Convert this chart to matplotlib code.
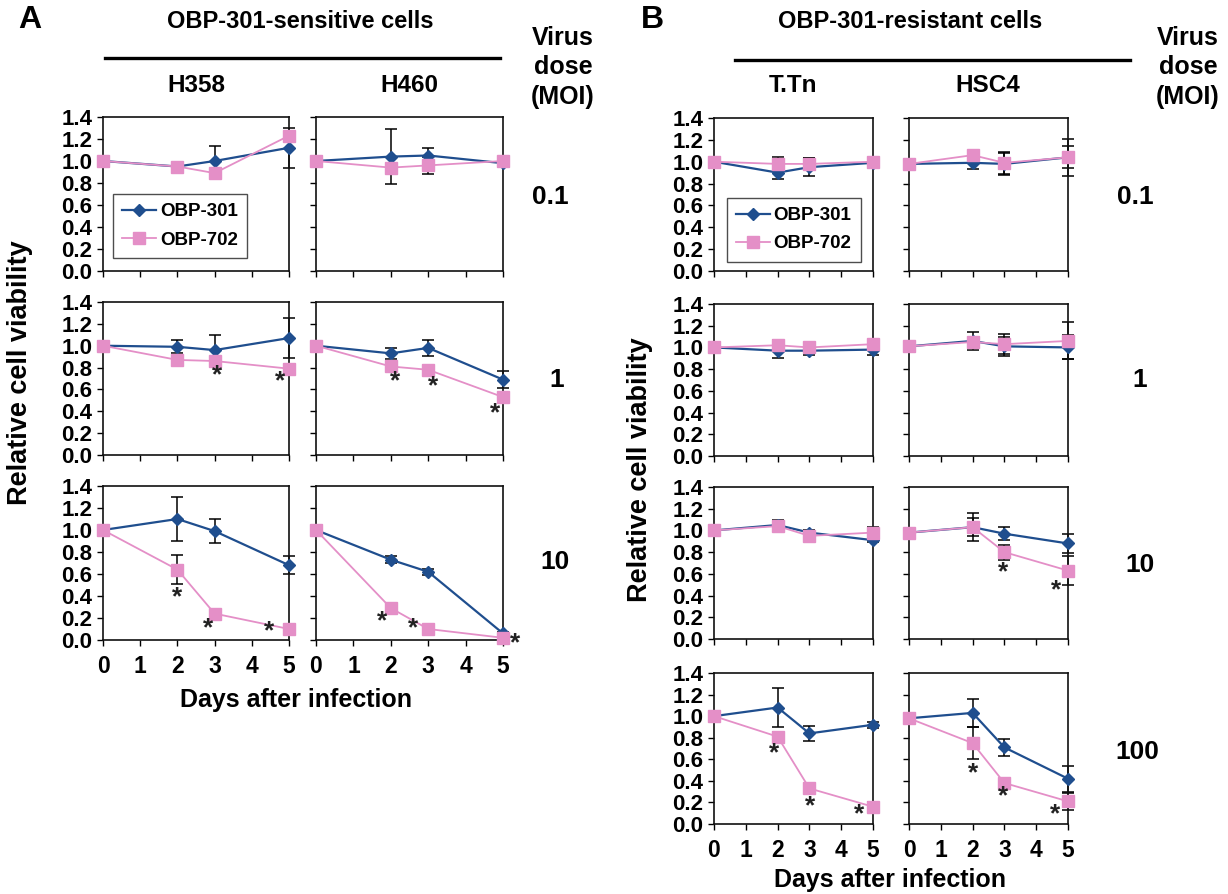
import matplotlib
matplotlib.use("Agg")
import matplotlib.pyplot as plt
import numpy as np

plt.rcParams['font.family'] = ['Liberation Sans', 'DejaVu Sans']
plt.rcParams['font.weight'] = 'bold'

days = [0, 2, 3, 5]
series_names = ["OBP-301", "OBP-702"]

# ---- Panel A: OBP-301-sensitive cells ----
H358_MOI01_301 = [1.00, 0.95, 1.00, 1.12]; H358_MOI01_301_err = [0, 0.03, 0.14, 0.18]
H358_MOI01_702 = [1.00, 0.95, 0.89, 1.23]; H358_MOI01_702_err = [0, 0.02, 0.03, 0.03]
H358_MOI1_301 = [1.00, 0.99, 0.96, 1.07]; H358_MOI1_301_err = [0, 0.06, 0.14, 0.18]
H358_MOI1_702 = [1.00, 0.87, 0.86, 0.79]; H358_MOI1_702_err = [0, 0.03, 0.03, 0.02]
H358_MOI10_301 = [1.00, 1.10, 0.99, 0.68]; H358_MOI10_301_err = [0, 0.20, 0.11, 0.08]
H358_MOI10_702 = [1.00, 0.64, 0.24, 0.10]; H358_MOI10_702_err = [0, 0.13, 0.02, 0.02]

H460_MOI01_301 = [1.00, 1.04, 1.05, 0.98]; H460_MOI01_301_err = [0, 0.25, 0.07, 0.02]
H460_MOI01_702 = [1.00, 0.94, 0.96, 1.00]; H460_MOI01_702_err = [0, 0.02, 0.08, 0.02]
H460_MOI1_301 = [1.00, 0.93, 0.98, 0.69]; H460_MOI1_301_err = [0, 0.05, 0.07, 0.08]
H460_MOI1_702 = [1.00, 0.81, 0.78, 0.53]; H460_MOI1_702_err = [0, 0.03, 0.02, 0.02]
H460_MOI10_301 = [1.00, 0.73, 0.62, 0.06]; H460_MOI10_301_err = [0, 0.03, 0.03, 0.01]
H460_MOI10_702 = [1.00, 0.29, 0.10, 0.02]; H460_MOI10_702_err = [0, 0.01, 0.01, 0.01]

# ---- Panel B: OBP-301-resistant cells ----
TTn_MOI01_301 = [1.00, 0.90, 0.95, 0.99]; TTn_MOI01_301_err = [0, 0.06, 0.08, 0.01]
TTn_MOI01_702 = [1.00, 0.98, 0.98, 1.00]; TTn_MOI01_702_err = [0, 0.06, 0.05, 0.01]
TTn_MOI1_301 = [1.00, 0.97, 0.97, 0.98]; TTn_MOI1_301_err = [0, 0.07, 0.04, 0.05]
TTn_MOI1_702 = [1.00, 1.02, 1.00, 1.03]; TTn_MOI1_702_err = [0, 0.05, 0.04, 0.02]
TTn_MOI10_301 = [1.00, 1.05, 0.98, 0.91]; TTn_MOI10_301_err = [0, 0.05, 0.02, 0.02]
TTn_MOI10_702 = [1.00, 1.04, 0.95, 0.98]; TTn_MOI10_702_err = [0, 0.04, 0.03, 0.05]
TTn_MOI100_301 = [1.00, 1.08, 0.84, 0.92]; TTn_MOI100_301_err = [0, 0.18, 0.07, 0.03]
TTn_MOI100_702 = [1.00, 0.81, 0.33, 0.16]; TTn_MOI100_702_err = [0, 0.04, 0.04, 0.04]

HSC4_MOI01_301 = [0.98, 0.99, 0.98, 1.04]; HSC4_MOI01_301_err = [0, 0.06, 0.10, 0.17]
HSC4_MOI01_702 = [0.98, 1.06, 0.99, 1.04]; HSC4_MOI01_702_err = [0, 0.02, 0.10, 0.10]
HSC4_MOI1_301 = [1.01, 1.06, 1.01, 1.00]; HSC4_MOI1_301_err = [0, 0.08, 0.09, 0.11]
HSC4_MOI1_702 = [1.01, 1.05, 1.03, 1.06]; HSC4_MOI1_702_err = [0, 0.03, 0.09, 0.17]
HSC4_MOI10_301 = [0.98, 1.03, 0.97, 0.88]; HSC4_MOI10_301_err = [0, 0.13, 0.06, 0.09]
HSC4_MOI10_702 = [0.98, 1.03, 0.80, 0.63]; HSC4_MOI10_702_err = [0, 0.08, 0.07, 0.13]
HSC4_MOI100_301 = [0.98, 1.03, 0.71, 0.42]; HSC4_MOI100_301_err = [0, 0.13, 0.08, 0.12]
HSC4_MOI100_702 = [0.98, 0.75, 0.38, 0.21]; HSC4_MOI100_702_err = [0, 0.15, 0.02, 0.08]

# significance stars (day position, viability position)
H358_MOI1_stars = [(3.08, 0.73), (4.76, 0.67)]
H358_MOI10_stars = [(1.99, 0.39), (2.83, 0.105), (4.47, 0.075)]
H460_MOI1_stars = [(2.11, 0.67), (3.13, 0.63), (4.79, 0.38)]
H460_MOI10_stars = [(1.76, 0.17), (2.59, 0.105), (5.32, -0.03)]
HSC4_MOI10_stars = [(2.96, 0.61), (4.62, 0.45)]
TTn_MOI100_stars = [(1.89, 0.66), (3.02, 0.16), (4.56, 0.09)]
HSC4_MOI100_stars = [(2.01, 0.47), (2.96, 0.26), (4.59, 0.09)]

y_ticks = [0.0, 0.2, 0.4, 0.6, 0.8, 1.0, 1.2, 1.4]
x_ticks = [0, 1, 2, 3, 4, 5]

BLUE = "#1f4e8e"
PINK = "#e48fc7"

W, H = 1228, 894
fig = plt.figure(figsize=(W / 100, H / 100), dpi=100)


def px_axes(x0, x1, y0, y1):
    return fig.add_axes([x0 / W, 1 - y1 / H, (x1 - x0) / W, (y1 - y0) / H])


def ftext(x, y, s, **kw):
    fig.text(x / W, 1 - y / H, s, **kw)


def panel(ax, v301, e301, v702, e702, stars, ylabels, xlabels, legend=None):
    for vals, errs in ((v301, e301), (v702, e702)):
        d = [d_ for d_, e in zip(days, errs) if e > 0]
        v = [v_ for v_, e in zip(vals, errs) if e > 0]
        ee = [e for e in errs if e > 0]
        ax.errorbar(d, v, yerr=ee, fmt='none', ecolor='black', elinewidth=1.1,
                    capsize=4, capthick=1.1, zorder=2, clip_on=False)
    l1, = ax.plot(days, v301, color=BLUE, lw=1.6, marker='D', ms=6.5,
                  mfc=BLUE, mec=BLUE, zorder=3, clip_on=False)
    l2, = ax.plot(days, v702, color=PINK, lw=1.3, marker='s', ms=9,
                  mfc=PINK, mec=PINK, zorder=4, clip_on=False)
    for sx, sy in stars:
        ax.text(sx, sy, '*', fontsize=19, fontweight='bold', ha='center',
                va='center', color='#222222', clip_on=False, zorder=5)
    ax.set_xlim(0, 5)
    ax.set_ylim(0, 1.4)
    ax.set_xticks(x_ticks)
    ax.set_yticks(y_ticks)
    if ylabels:
        ax.set_yticklabels([f"{t:.1f}" for t in y_ticks], fontsize=16, fontweight='bold')
    else:
        ax.set_yticklabels([])
    if xlabels:
        ax.set_xticklabels([str(t) for t in x_ticks], fontsize=16.5, fontweight='bold')
    else:
        ax.set_xticklabels([])
    ax.tick_params(axis='y', direction='out', length=4.5, width=1, pad=3)
    ax.tick_params(axis='x', direction='out', length=4.5, width=1, pad=6)
    for sp in ax.spines.values():
        sp.set_linewidth(1.2)
        sp.set_color('#111111')
    if legend is not None:
        leg = ax.legend([l1, l2], series_names, loc='lower left',
                        bbox_to_anchor=legend, frameon=True,
                        fancybox=False, edgecolor='#222222', handlelength=1.8,
                        labelspacing=0.6, borderpad=0.5, handletextpad=0.2,
                        borderaxespad=0.0,
                        prop={'weight': 'bold', 'size': 13.5})
        leg.get_frame().set_linewidth(1.0)


# Panel A layout (pixels)
A_cols = [(103, 289), (316, 503)]
A_rows = [(117, 271), (302, 455), (486, 640)]
A_data = [
    [(H358_MOI01_301, H358_MOI01_301_err, H358_MOI01_702, H358_MOI01_702_err, []),
     (H460_MOI01_301, H460_MOI01_301_err, H460_MOI01_702, H460_MOI01_702_err, [])],
    [(H358_MOI1_301, H358_MOI1_301_err, H358_MOI1_702, H358_MOI1_702_err, H358_MOI1_stars),
     (H460_MOI1_301, H460_MOI1_301_err, H460_MOI1_702, H460_MOI1_702_err, H460_MOI1_stars)],
    [(H358_MOI10_301, H358_MOI10_301_err, H358_MOI10_702, H358_MOI10_702_err, H358_MOI10_stars),
     (H460_MOI10_301, H460_MOI10_301_err, H460_MOI10_702, H460_MOI10_702_err, H460_MOI10_stars)],
]
for r, (y0, y1) in enumerate(A_rows):
    for c, (x0, x1) in enumerate(A_cols):
        ax = px_axes(x0, x1, y0, y1)
        v1, e1, v2, e2, st = A_data[r][c]
        panel(ax, v1, e1, v2, e2, st, ylabels=(c == 0), xlabels=(r == len(A_rows) - 1),
              legend=(0.054, 0.084) if (r == 0 and c == 0) else None)

# Panel B layout
B_cols = [(714, 873), (909, 1068)]
B_rows = [(118, 271), (304, 456), (487, 639), (673, 824)]
B_data = [
    [(TTn_MOI01_301, TTn_MOI01_301_err, TTn_MOI01_702, TTn_MOI01_702_err, []),
     (HSC4_MOI01_301, HSC4_MOI01_301_err, HSC4_MOI01_702, HSC4_MOI01_702_err, [])],
    [(TTn_MOI1_301, TTn_MOI1_301_err, TTn_MOI1_702, TTn_MOI1_702_err, []),
     (HSC4_MOI1_301, HSC4_MOI1_301_err, HSC4_MOI1_702, HSC4_MOI1_702_err, [])],
    [(TTn_MOI10_301, TTn_MOI10_301_err, TTn_MOI10_702, TTn_MOI10_702_err, []),
     (HSC4_MOI10_301, HSC4_MOI10_301_err, HSC4_MOI10_702, HSC4_MOI10_702_err, HSC4_MOI10_stars)],
    [(TTn_MOI100_301, TTn_MOI100_301_err, TTn_MOI100_702, TTn_MOI100_702_err, TTn_MOI100_stars),
     (HSC4_MOI100_301, HSC4_MOI100_301_err, HSC4_MOI100_702, HSC4_MOI100_702_err, HSC4_MOI100_stars)],
]
for r, (y0, y1) in enumerate(B_rows):
    for c, (x0, x1) in enumerate(B_cols):
        ax = px_axes(x0, x1, y0, y1)
        v1, e1, v2, e2, st = B_data[r][c]
        panel(ax, v1, e1, v2, e2, st, ylabels=(c == 0), xlabels=(r == len(B_rows) - 1),
              legend=(0.08, 0.06) if (r == 0 and c == 0) else None)

# ---- Text annotations ----
ftext(30, 20, "A", fontsize=23, fontweight='bold', ha='center', va='center')
ftext(652, 20, "B", fontsize=23, fontweight='bold', ha='center', va='center')
ftext(300, 22, "OBP-301-sensitive cells", fontsize=17, fontweight='bold', ha='center', va='center')
ftext(910, 22, "OBP-301-resistant cells", fontsize=17, fontweight='bold', ha='center', va='center')
fig.add_artist(plt.Line2D([105 / W, 500 / W], [1 - 58 / H, 1 - 58 / H], color='black', lw=2.4))
fig.add_artist(plt.Line2D([735 / W, 1130 / W], [1 - 60 / H, 1 - 60 / H], color='black', lw=2.4))
ftext(196, 85, "H358", fontsize=17.5, fontweight='bold', ha='center', va='center')
ftext(409, 85, "H460", fontsize=17.5, fontweight='bold', ha='center', va='center')
ftext(793, 85, "T.Tn", fontsize=17.5, fontweight='bold', ha='center', va='center')
ftext(988, 85, "HSC4", fontsize=17.5, fontweight='bold', ha='center', va='center')
for xv in (563, 1188):
    ftext(xv, 38, "Virus", fontsize=18, fontweight='bold', ha='center', va='center')
    ftext(xv, 67, "dose", fontsize=18, fontweight='bold', ha='center', va='center')
    ftext(xv, 97, "(MOI)", fontsize=18, fontweight='bold', ha='center', va='center')

for (xv, yv, s) in [(550, 197, "0.1"), (557, 380, "1"), (555, 562, "10"),
                    (1135, 197, "0.1"), (1140, 380, "1"), (1140, 565, "10"), (1137, 752, "100")]:
    ftext(xv, yv, s, fontsize=19, fontweight='bold', ha='center', va='center')

ftext(20, 373, "Relative cell viability", fontsize=19.5, fontweight='bold', ha='center',
      va='center', rotation=90)
ftext(640, 470, "Relative cell viability", fontsize=19.5, fontweight='bold', ha='center',
      va='center', rotation=90)
ftext(296, 700, "Days after infection", fontsize=18, fontweight='bold', ha='center', va='center')
ftext(890, 880, "Days after infection", fontsize=18, fontweight='bold', ha='center', va='center')

fig.savefig("out.png", dpi=100, facecolor='white')
